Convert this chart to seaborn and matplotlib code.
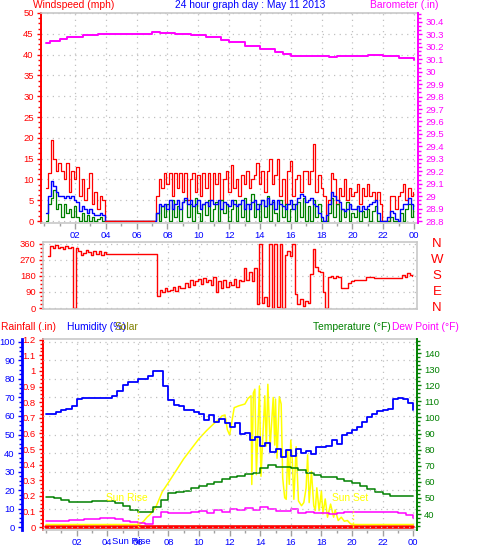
import numpy as np
import pandas as pd
import matplotlib
matplotlib.use("Agg")
import matplotlib.pyplot as plt
import matplotlib.transforms as mtrans
from matplotlib.ticker import MultipleLocator, FixedLocator, FuncFormatter
import seaborn as sns

sns.set_theme(style="white")
plt.rcParams["font.family"] = ["Liberation Sans", "DejaVu Sans"]

# ---------------- data ----------------
TITLE = "24 hour graph day : May 11 2013"
hour_ticks = [2, 4, 6, 8, 10, 12, 14, 16, 18, 20, 22, 24]
hour_labels = ["02", "04", "06", "08", "10", "12", "14", "16", "18", "20", "22", "00"]

# wind, 10-minute samples starting 00:06 (one row per hour)
wind_gust = [
    8, 11.5, 19.5, 15, 12, 14,
    12, 10, 14, 7, 12, 10,
    13, 6, 10, 5, 8, 11.5,
    4, 7, 3, 6, 5, 0,
    0, 0, 0, 0, 0, 0,
    0, 0, 0, 0, 0, 0,
    0, 0, 0, 0, 0, 0,
    0, 6, 10, 8, 11.5, 9,
    11.5, 6, 11.5, 8, 11.5, 7,
    11.5, 5, 10, 11.5, 7, 11,
    6, 11.5, 8, 11.5, 5, 11.5,
    9, 11.5, 5, 10, 12, 7,
    13.5, 8, 10, 6, 11, 9,
    12, 8, 10, 11, 14, 9,
    12, 7, 12, 15, 9, 11,
    15, 6, 10, 4, 12, 14.5,
    6, 10, 11, 7, 12, 12,
    9, 12, 18.5, 7, 11, 8,
    6, 0, 5, 11.5, 10, 4,
    8, 6, 10, 5, 8, 6,
    7, 9, 4, 8, 6, 9,
    6, 7, 5, 7, 4, 0,
    0, 0, 6, 6, 3, 6,
    7, 9, 5, 8, 6, 7,
]
wind_avg = [
    2, 6, 9.5, 8.5, 7, 6,
    6, 5.5, 6, 5.5, 6, 5,
    4.5, 2.5, 3.5, 3, 2, 3,
    2, 1.5, 1.5, 2, 1.5, 0,
    0, 0, 0, 0, 0, 0,
    0, 0, 0, 0, 0, 0,
    0, 0, 0, 0, 0, 0,
    0, 2, 4, 3.5, 4, 3,
    5, 3, 4, 5, 3, 4.5,
    5.5, 4, 5, 3.5, 4, 5,
    3, 4, 4.5, 3.5, 5, 4,
    4, 5, 3, 4.5, 4, 3.5,
    5, 4, 3.5, 4, 5, 3,
    4, 3, 4.5, 5, 3, 4,
    5, 3.5, 5.5, 4, 5, 3,
    5, 4, 3.5, 3, 4, 5,
    3, 4, 5.5, 6.5, 6, 4.5,
    5, 5.5, 4, 3.5, 2, 1,
    0, 1.5, 4, 7, 6, 5,
    4.5, 3, 2.5, 3, 4, 3,
    3, 3.5, 2.5, 3.5, 3, 3.5,
    4, 4.5, 5, 2, 0, 0,
    0, 1, 2.5, 2, 0.5, 0,
    3, 4, 4, 5.5, 4, 3,
]
wind_speed = [
    0, 4, 5.5, 7.5, 3, 4,
    1, 4, 2, 3, 1, 3.5,
    1, 0, 2, 0, 1.5, 0,
    1, 0, 0.5, 1, 0, 0,
    0, 0, 0, 0, 0, 0,
    0, 0, 0, 0, 0, 0,
    0, 0, 0, 0, 0, 0,
    0, 2, 0, 3.5, 1, 4,
    0, 5, 1, 3.5, 0, 4.5,
    5, 1, 4, 0, 5.5, 2,
    0, 4, 1.5, 5, 0, 3,
    4.5, 0, 5, 2, 4, 0,
    3, 5, 0, 4, 1, 5.5,
    0, 4, 6.5, 1, 4, 0,
    5, 1, 6, 0, 4.5, 2,
    0, 5, 1, 4, 0, 3,
    4, 0, 4.5, 1, 5.5, 0,
    3.5, 0, 5, 1, 4, 0,
    0, 0, 2, 5.5, 1, 4,
    0, 3, 1, 4.5, 0, 2,
    1, 3.5, 0, 2.5, 1, 3,
    0, 2.5, 3.5, 0, 0, 0,
    0, 0, 1, 0, 0, 0,
    2, 0, 3, 4, 1, 3,
]
wind_dir = [
    294, 347, 340, 355, 335, 345,
    330, 350, 338, 345, 0, 340,
    320, 300, 310, 325, 315, 300,
    318, 305, 320, 300, 315, 305,
    305, 305, 305, 305, 305, 305,
    305, 305, 305, 305, 305, 305,
    305, 305, 305, 305, 305, 305,
    305, 65, 100, 90, 110, 95,
    100, 120, 95, 125, 110, 115,
    140, 120, 160, 130, 150, 165,
    135, 170, 145, 160, 130, 175,
    90, 150, 110, 160, 120, 145,
    130, 165, 120, 160, 150, 225,
    160, 200, 150, 225, 20, 360,
    30, 60, 10, 360, 0, 360,
    5, 360, 0, 300, 320, 290,
    360, 80, 20, 50, 10, 40,
    30, 190, 330, 230, 210, 200,
    90, 0, 175, 180, 170, 180,
    175, 115, 115, 115, 140, 150,
    155, 155, 155, 155, 160, 175,
    175, 175, 170, 170, 170, 170,
    170, 170, 170, 170, 170, 170,
    170, 185, 175, 195, 185, 182,
]
wind_hours = 0.1 + np.arange(len(wind_gust)) / 6.0

baro_hours = [0.1, 0.4, 1.0, 1.5, 2.5, 3.5, 5.0, 6.0, 7.0, 7.3, 7.5, 8.5, 9.5, 10.5,
              11.5, 12.0, 13.0, 14.0, 15.0, 15.5, 16.0, 17.0, 18.0, 18.5, 19.0, 20.0,
              21.0, 22.0, 23.0, 24.0]
baro_inhg = [30.229, 30.245, 30.26, 30.28, 30.298, 30.306, 30.30, 30.306, 30.322, 30.32,
             30.31, 30.306, 30.293, 30.277, 30.258, 30.237, 30.21, 30.186, 30.159, 30.14,
             30.13, 30.128, 30.125, 30.116, 30.128, 30.13, 30.133, 30.128, 30.108, 30.095]

# humidity, 20-minute samples
humidity = [
    61, 61, 62, 63, 64, 65.5, 69, 69.5, 69.5, 69.5, 69.5, 69.5,
    69.5, 71, 73.5, 76.5, 78.5, 78.5, 80, 80, 81.5, 84.5, 84.5, 76,
    68.5, 66, 65.5, 63.5, 63, 62, 61, 58, 60.5, 57, 58.5, 56,
    54, 56, 50.5, 51, 47, 48.5, 44, 45.5, 40.5, 42, 38, 41.5,
    38.5, 42, 40, 41, 39.5, 43.5, 43.5, 44, 47, 45, 49.5, 51,
    52.5, 54, 56.5, 59.5, 61, 62.5, 63.5, 64, 69, 69.5, 69, 67,
    63.5,
]
hum_hours = np.arange(len(humidity)) / 3.0

# temperature / dew point, 30-minute samples
temperature = [
    50.4, 49.7, 48.7, 47.7, 47.7, 47.7, 48.3, 48.3, 48.3, 47, 45, 42.5,
    41, 41, 44.6, 49, 52.8, 53.5, 54.5, 56, 57.6, 58.6, 60, 61.5,
    62.8, 63.6, 64.8, 65.7, 68.4, 70.4, 69.4, 69.4, 68.4, 67.3, 65.7, 64.2,
    63.2, 62.8, 61.5, 60.5, 59, 57.4, 55.5, 53.9, 52.4, 51.4, 51, 51,
    51,
]
dew_point = [
    35.4, 35.4, 35.9, 36, 36.3, 36.7, 37.1, 37.5, 37.5, 36.7, 35.9, 35,
    34.6, 34, 38.3, 41, 40.4, 40.8, 40.4, 41.5, 41.7, 40.8, 42.5, 41.5,
    43.3, 42.4, 43.8, 42.6, 44.1, 43, 42, 41.6, 43.3, 40.8, 41.4, 40.6,
    40.8, 40.2, 40.4, 41.2, 41.2, 41.2, 41.2, 41.2, 41.2, 41, 40.4, 39.6,
    37.5,
]
temp_hours = np.arange(len(temperature)) / 2.0

solar_hours = [0, 5.95, 6.2, 6.4, 6.6, 6.8, 7.0, 7.2, 7.4, 7.6, 8.0, 8.5, 9.0, 9.5, 10.0,
               10.5, 11.0, 11.3, 11.5, 11.7, 11.85, 12.0, 12.1, 12.3, 12.6, 13.0, 13.2, 13.4,
               13.45, 13.55, 13.65, 13.75, 13.95, 14.05, 14.3, 14.4, 14.5, 14.65, 14.85, 14.95,
               15.0, 15.1, 15.25, 15.37, 15.47, 15.6, 15.7, 15.8, 15.9, 16.0, 16.1, 16.2,
               16.35, 16.5, 16.7, 16.85, 17.0, 17.1, 17.2, 17.35, 17.5, 17.6, 17.7, 17.85,
               18.0, 18.1, 18.25, 18.4, 18.6, 18.8, 18.9, 19.1, 19.3, 19.5, 19.7, 19.9,
               20.05, 24]
solar_wm2 = [0, 0, 5, 20, 40, 55, 75, 100, 140, 180, 230, 295, 360, 415, 470,
             515, 555, 575, 595, 600, 520, 490, 540, 640, 650, 660, 690, 705,
             219, 720, 741, 273, 759, 264, 705, 430, 768, 426, 696, 435,
             687, 363, 700, 660, 255, 147, 138, 400, 220, 462, 345, 138,
             426, 129, 103, 120, 200, 381, 120, 291, 103, 76, 201, 76,
             183, 58, 140, 40, 112, 40, 80, 22, 40, 18, 22, 4,
             0, 0]

rain_hours = list(range(25))
rain_in = [0] * 25

sunrise_hour = 6.0
sunset_hour = 20.05

# ---------------- style ----------------
RED = "#FF0000"
BLUE = "#0000FF"
GREEN = "#008000"
MAGENTA = "#FF00FF"
YELLOW = "#FFFF00"
OLIVE = "#808000"
BORDER = "#C8C8C8"
GRID = "#C0C0C0"
TICK_FS = 6.8
HEAD_FS = 7.4

W, H = 478, 555
fig = plt.figure(figsize=(W / 100, H / 100), dpi=100)
fig.patch.set_facecolor("white")


def rect(x0, y0, x1, y1):
    return [x0 / W, 1 - y1 / H, (x1 - x0) / W, (y1 - y0) / H]


XLIM = (-0.2, 24.25)
gnum = FuncFormatter(lambda v, p: f"{round(v, 2):g}")


def style_xaxis(ax, labels=True):
    ax.set_xlim(*XLIM)
    ax.xaxis.set_major_locator(FixedLocator(hour_ticks))
    ax.xaxis.set_minor_locator(MultipleLocator(1))
    if labels:
        ax.set_xticklabels(hour_labels)
    ax.tick_params(axis="x", which="both", bottom=labels, top=False, direction="out",
                   color="#A0A0A0", labelcolor=BLUE, labelsize=TICK_FS, pad=1.5,
                   labelbottom=labels)
    ax.tick_params(axis="x", which="major", length=4, width=1)
    ax.tick_params(axis="x", which="minor", length=2.5, width=1)
    ax.xaxis.grid(True, which="major", color=GRID, linestyle=(0, (1, 3.5)), linewidth=0.9)
    ax.set_xlabel("")


def style_y(ax, side, color, major, minor, label_fmt=gnum, spine_lw=1.4):
    ax.yaxis.set_major_locator(major)
    ax.yaxis.set_minor_locator(minor)
    ax.yaxis.set_major_formatter(label_fmt)
    ax.yaxis.set_ticks_position(side)
    ax.tick_params(axis="y", which="both", direction="out", color=color,
                   labelcolor=color, labelsize=TICK_FS, pad=2, width=1)
    ax.tick_params(axis="y", which="major", length=3.2)
    ax.tick_params(axis="y", which="minor", length=2)
    ax.spines[side].set_color(color)
    ax.spines[side].set_linewidth(spine_lw)
    ax.set_ylabel("")


# ---------------- top panel: wind + barometer ----------------
wind_df = pd.DataFrame({"hour": wind_hours, "gust": wind_gust, "avg": wind_avg,
                        "speed": wind_speed, "dir": wind_dir})

axw = fig.add_axes(rect(41, 13, 418, 223))
axw.set_facecolor("white")
sns.lineplot(data=wind_df, x="hour", y="gust", ax=axw, color=RED, linewidth=0.9,
             drawstyle="steps-post", estimator=None, sort=False)
sns.lineplot(data=wind_df, x="hour", y="speed", ax=axw, color=GREEN, linewidth=0.9,
             drawstyle="steps-post", estimator=None, sort=False)
sns.lineplot(data=wind_df, x="hour", y="avg", ax=axw, color=BLUE, linewidth=1.0,
             drawstyle="steps-post", estimator=None, sort=False)
calm = wind_df[(wind_df["hour"] > 3.9) & (wind_df["hour"] < 7.2)]
sns.lineplot(data=calm, x="hour", y="gust", ax=axw, color=RED, linewidth=1.0,
             drawstyle="steps-post", estimator=None, sort=False)
axw.set_ylim(-0.48, 50)
style_xaxis(axw)
style_y(axw, "left", RED, MultipleLocator(5), MultipleLocator(1.25))
axw.yaxis.grid(True, which="major", color=GRID, linestyle=(0, (1, 3.5)), linewidth=0.9)
for s in ("top", "bottom"):
    axw.spines[s].set_color(BORDER)
    axw.spines[s].set_linewidth(1.2)
axw.spines["right"].set_visible(False)

axb = axw.twinx()
sns.lineplot(x=baro_hours, y=baro_inhg, ax=axb, color=MAGENTA, linewidth=1.4,
             drawstyle="steps-post", estimator=None, sort=False)
axb.set_ylim(28.784, 30.472)
style_y(axb, "right", MAGENTA, FixedLocator(np.round(np.arange(28.8, 30.41, 0.1), 1)),
        MultipleLocator(0.1 / 3))
for s in ("top", "bottom", "left"):
    axb.spines[s].set_visible(False)
axb.set_xlim(*XLIM)

# ---------------- middle panel: wind direction ----------------
axd = fig.add_axes(rect(43, 242, 417, 309))
axd.set_facecolor("white")
sns.lineplot(data=wind_df, x="hour", y="dir", ax=axd, color=RED, linewidth=1.0,
             drawstyle="steps-post", estimator=None, sort=False)
axd.set_ylim(-5.6, 371)
style_xaxis(axd, labels=False)
style_y(axd, "left", RED, FixedLocator([0, 90, 180, 270, 360]), MultipleLocator(22.5))
axd.yaxis.grid(True, which="major", color=GRID, linestyle=(0, (1, 3.5)), linewidth=0.9)
for s in ("top", "bottom", "right", "left"):
    axd.spines[s].set_color(BORDER)
    axd.spines[s].set_linewidth(1.2)
compass = ["N", "W", "S", "E", "N"]
compass_deg = [360, 270, 180, 90, 0]
trans = mtrans.blended_transform_factory(axd.transAxes, axd.transData)
for letter, deg in zip(compass, compass_deg):
    axd.text(1.053, deg, letter, transform=trans, ha="center", va="center",
             color=RED, fontsize=9.5)

# ---------------- bottom panel ----------------
axr = fig.add_axes(rect(43, 339, 417, 530))
axr.set_facecolor("white")
axr.set_zorder(1)
sns.lineplot(x=rain_hours, y=rain_in, ax=axr, color=RED, linewidth=2.6,
             estimator=None, sort=False)
axr.set_ylim(-0.019, 1.205)
style_xaxis(axr)
style_y(axr, "left", RED, MultipleLocator(0.1), MultipleLocator(0.025))
for s in ("top", "bottom"):
    axr.spines[s].set_color(BORDER)
    axr.spines[s].set_linewidth(1.2)
axr.spines["right"].set_visible(False)

axs = axr.twinx()
axs.set_zorder(2)
sns.lineplot(x=solar_hours, y=solar_wm2, ax=axs, color=YELLOW, linewidth=1.1,
             estimator=None, sort=False)
axs.set_ylim(-30, 1016)
axs.set_xlim(*XLIM)
axs.set_axis_off()

axt = axr.twinx()
axt.set_zorder(3)
sns.lineplot(x=temp_hours, y=temperature, ax=axt, color=GREEN, linewidth=1.1,
             drawstyle="steps-post", estimator=None, sort=False)
sns.lineplot(x=temp_hours, y=dew_point, ax=axt, color=MAGENTA, linewidth=1.1,
             drawstyle="steps-post", estimator=None, sort=False)
axt.set_ylim(30.1, 148.7)
axt.set_xlim(*XLIM)
style_y(axt, "right", GREEN, MultipleLocator(10), MultipleLocator(2.5))
for s in ("top", "bottom", "left"):
    axt.spines[s].set_visible(False)

axh = axr.twinx()
axh.set_zorder(4)
sns.lineplot(x=hum_hours, y=humidity, ax=axh, color=BLUE, linewidth=1.3,
             drawstyle="steps-post", estimator=None, sort=False)
axh.set_ylim(-1.6, 101.6)
axh.set_xlim(*XLIM)
axh.spines["left"].set_visible(True)
axh.spines["left"].set_position(("outward", 21 * 0.72))
axh.yaxis.set_label_position("left")
style_y(axh, "left", BLUE, MultipleLocator(10), MultipleLocator(2.5), spine_lw=2.0)
axh.yaxis.grid(True, which="major", color=GRID, linestyle=(0, (1, 3.5)), linewidth=0.9)
for s in ("top", "bottom", "right"):
    axh.spines[s].set_visible(False)

# sunrise / sunset markers
for hr, txt, tx in [(sunrise_hour, "Sun Rise", 5.3), (sunset_hour, "Sun Set", 19.9)]:
    axh.plot([hr, hr], [0, 9], color=YELLOW, linestyle=":", linewidth=1.0)
    axh.text(tx, 15.7, txt, color=YELLOW, fontsize=HEAD_FS, ha="center", va="center")
trans_b = mtrans.blended_transform_factory(axr.transData, axr.transAxes)
axr.text(5.6, -0.062, "Sun Rise", transform=trans_b, color=BLUE, fontsize=TICK_FS,
         ha="center", va="center")

# ---------------- header texts ----------------
def ftext(x, y, s, color, ha="left"):
    fig.text(x / W, 1 - y / H, s, color=color, fontsize=HEAD_FS, ha=ha, va="baseline")

ftext(33, 8.5, "Windspeed (mph)", RED)
ftext(250, 8.5, TITLE, BLUE, ha="center")
ftext(439, 8.5, "Barometer (.in)", MAGENTA, ha="right")
ftext(1, 329.5, "Rainfall (.in)", RED)
ftext(67, 329.5, "Humidity (%)", BLUE)
ftext(115, 329.5, "Solar", OLIVE)
ftext(313, 329.5, "Temperature (\u00b0F)", GREEN)
ftext(392, 329.5, "Dew Point (\u00b0F)", MAGENTA)

fig.savefig("out.png", dpi=100, facecolor="white")
